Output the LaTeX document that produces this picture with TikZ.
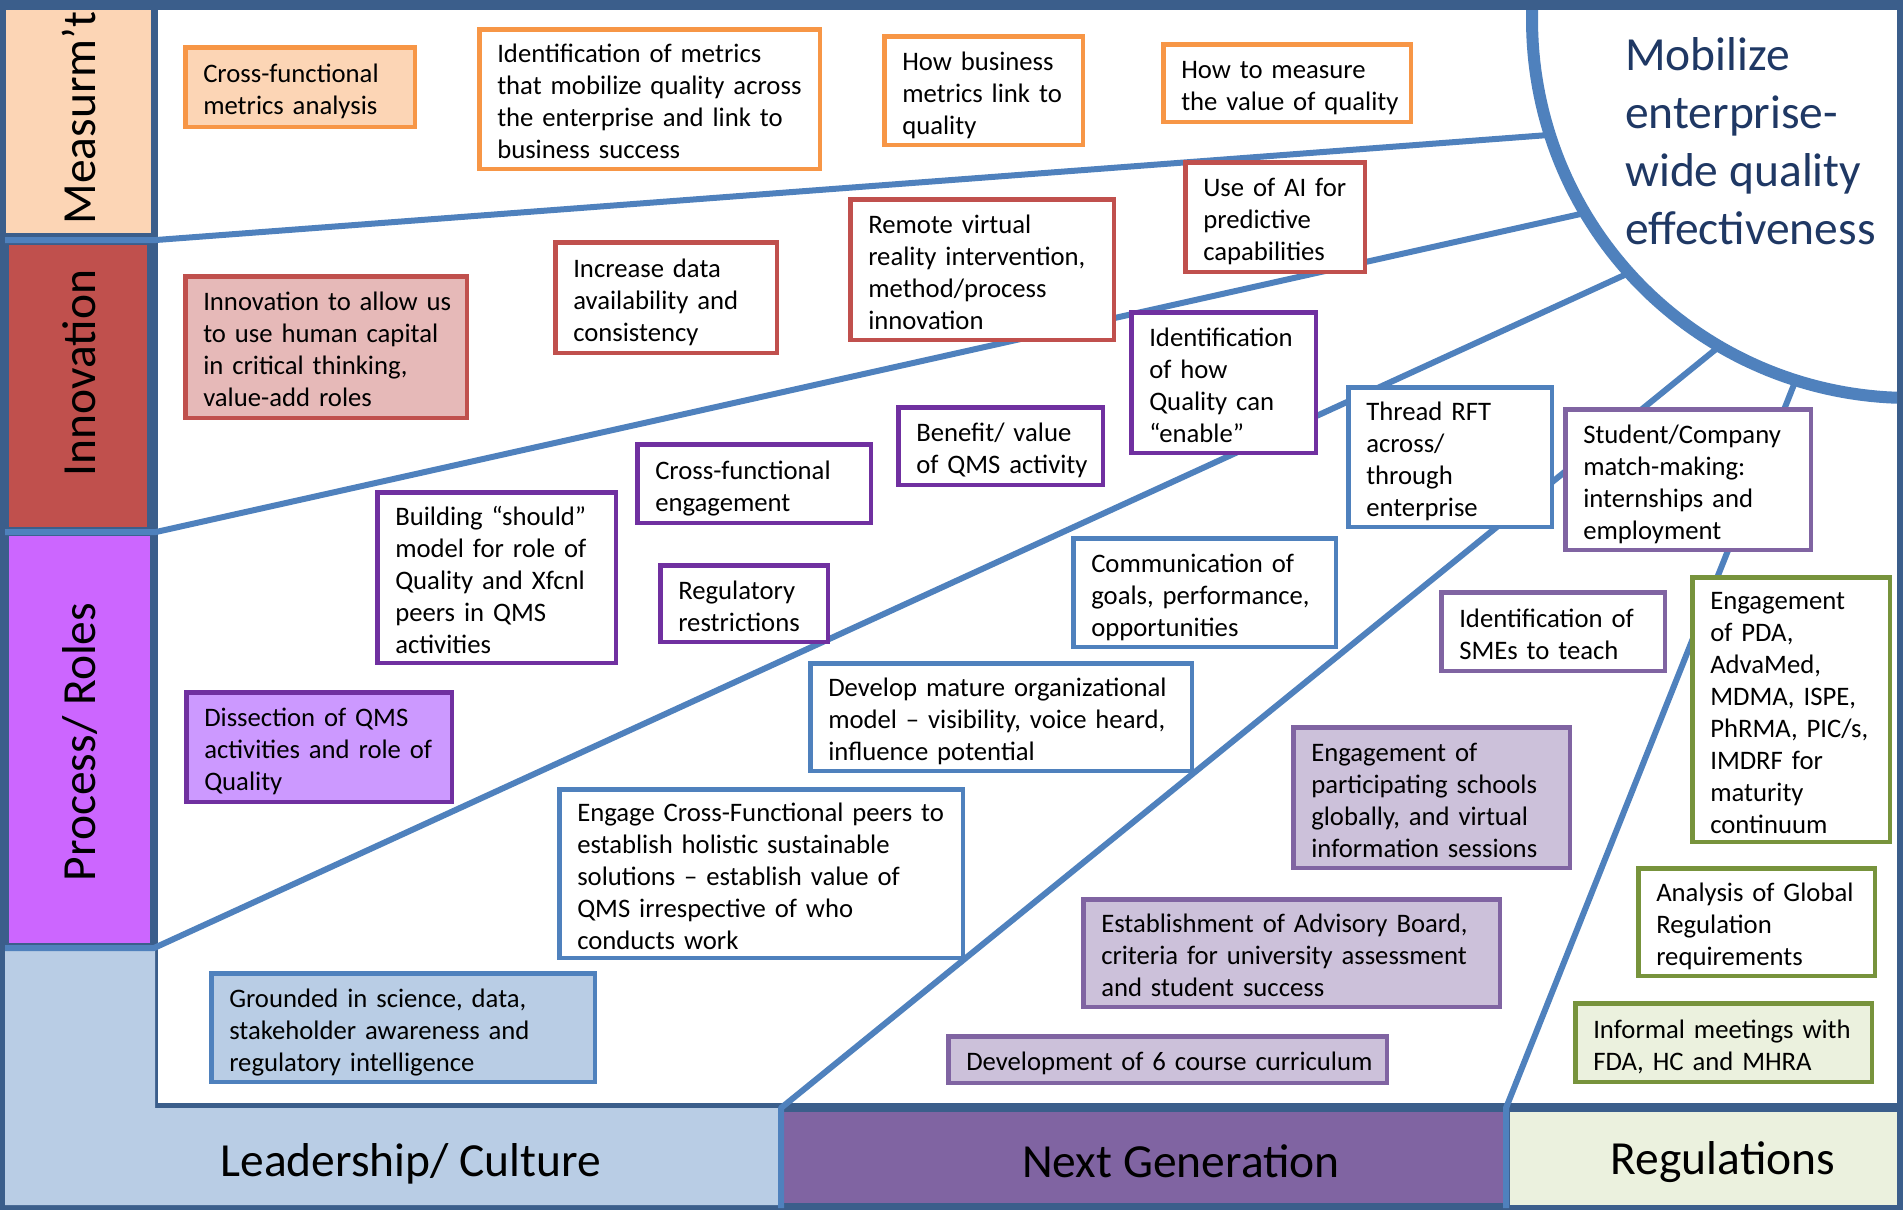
\documentclass[tikz,border=0pt]{standalone}
\usepackage{fontspec}
\setmainfont{Carlito}

\definecolor{framec}{HTML}{3B5E8B}
\definecolor{linec}{HTML}{4F81BD}
\definecolor{peachc}{HTML}{FCD5B5}
\definecolor{orangec}{HTML}{F79646}
\definecolor{redc}{HTML}{C0504D}
\definecolor{pinkc}{HTML}{E6B9B8}
\definecolor{purplec}{HTML}{7030A0}
\definecolor{violetc}{HTML}{CC66FF}
\definecolor{lilacc}{HTML}{CC99FF}
\definecolor{paleblue}{HTML}{B9CDE5}
\definecolor{ngc}{HTML}{8064A2}
\definecolor{ngfill}{HTML}{CCC1DA}
\definecolor{greenc}{HTML}{77933C}
\definecolor{regfill}{HTML}{EBF1DE}
\definecolor{titlec}{HTML}{1F3864}

\newcommand\boxfont{\fontsize{26.7}{32}\selectfont}
\newcommand\bandfont{\fontsize{47.5}{58}\selectfont}

% text box given by its outer corners: style, name, x1, y1, x2, y2, lines
\newcommand\tbox[7]{%
  \pgfmathsetmacro\bxw{#5-#3-4.5}%
  \pgfmathsetmacro\bxh{#6-#4-4.5}%
  \pgfmathsetmacro\bxt{#5-#3-40.5}%
  \node[#1, minimum width=\bxw pt, minimum height=\bxh pt, text width=\bxt pt]
    (#2) at ({(#3+#5)/2},{(#4+#6)/2})
    {\vspace*{-11pt}\begin{tabular}{@{}l@{}}#7\end{tabular}};}

\begin{document}
\begin{tikzpicture}[x=1pt,y=-1pt,
  bx/.style={draw=#1, line width=4.5pt, fill=white, inner xsep=18pt, inner ysep=2pt,
             font=\boxfont, text=black},
  conn/.style={draw=linec, line width=6pt, line join=round},
  band/.style={font=\bandfont, text=black, inner sep=0pt}]
\useasboundingbox (0,0) rectangle (1903,1210);

% frame, working area and category panels
\fill[framec] (0,0) rectangle (1903,1210);
\fill[white] (158,10) rectangle (1897,1103);
\fill[peachc] (6,10) rectangle (151,233);
\fill[redc] (9,245) rectangle (147,527);
\fill[violetc] (9,536) rectangle (150,943);
\fill[paleblue] (5,950) -- (155,950) -- (155,1108) -- (778,1108) -- (778,1205)
  -- (5,1205) -- cycle;
\fill[ngc] (783,1112) rectangle (1503,1203);
\fill[regfill] (1510,1112) rectangle (1897,1205);

% dividing lines running to the goal circle
\coordinate (a0) at (5,240);    \coordinate (a1) at (156,240);  \coordinate (a2) at (1549.9,134.9);
\coordinate (b0) at (5,532);    \coordinate (b1) at (156,532);  \coordinate (b2) at (1585,213);
\coordinate (c0) at (5,948);    \coordinate (c1) at (154,948);  \coordinate (c2) at (1629.1,272.9);
\coordinate (d0) at (781,1208); \coordinate (d1) at (781,1108); \coordinate (d2) at (1719.3,346.4);
\coordinate (e0) at (1506,1208);\coordinate (e1) at (1506,1108);\coordinate (e2) at (1795.7,380.3);
\draw[conn] (a0) -- (a1) -- (a2);
\draw[conn] (b0) -- (b1) -- (b2);
\draw[conn] (c0) -- (c1) -- (c2);
\draw[conn] (d0) -- (d1) -- (d2);
\draw[conn] (e0) -- (e1) -- (e2);

% goal circle
\begin{scope}
  \clip (158,10) rectangle (1897,1103);
  \draw[linec, line width=12pt] plot[domain=70:200, samples=100]
    ({1910+378*cos(\x)},{20+378*sin(\x)});
\end{scope}
\node[font=\bandfont, text=titlec, align=left, anchor=west, inner sep=0pt] (goal)
  at (1625,141) {Mobilize\\enterprise-\\wide quality\\effectiveness};

% measurement
\tbox{bx=orangec, fill=peachc}{m1}{183}{45}{417}{129}{Cross-functional\\metrics analysis}
\tbox{bx=orangec}{m2}{477}{27}{822}{171}{Identification of metrics\\that mobilize quality across\\the enterprise and link to\\business success}
\tbox{bx=orangec}{m3}{882}{34}{1085}{147}{How business\\metrics link to\\quality}
\tbox{bx=orangec}{m4}{1161}{42}{1413}{124}{How to measure\\the value of quality}

% innovation
\tbox{bx=redc, fill=pinkc}{i1}{183}{274}{469}{420}{Innovation to allow us\\to use human capital\\in critical thinking,\\value-add roles}
\tbox{bx=redc}{i2}{553}{240}{779}{355}{Increase data\\availability and\\consistency}
\tbox{bx=redc}{i3}{848}{197}{1116}{342}{Remote virtual\\reality intervention,\\method/process\\innovation}
\tbox{bx=redc}{i4}{1183}{160}{1367}{274}{Use of AI for\\predictive\\capabilities}

% process / roles
\tbox{bx=purplec}{p1}{375}{490}{618}{665}{Building “should”\\model for role of\\Quality and Xfcnl\\peers in QMS\\activities}
\tbox{bx=purplec}{p2}{635}{442}{873}{525}{Cross-functional\\engagement}
\tbox{bx=purplec}{p3}{896}{405}{1105}{487}{Benefit/ value\\of QMS activity}
\tbox{bx=purplec}{p4}{1129}{310}{1318}{455}{Identification\\of how\\Quality can\\“enable”}
\tbox{bx=purplec}{p5}{658}{563}{830}{644}{Regulatory\\restrictions}
\tbox{bx=purplec, fill=lilacc}{p6}{184}{690}{454}{804}{Dissection of QMS\\activities and role of\\Quality}

% leadership / culture
\tbox{bx=linec}{l1}{1346}{385}{1554}{529}{Thread RFT\\across/\\through\\enterprise}
\tbox{bx=linec}{l2}{1071}{536}{1338}{649}{Communication of\\goals, performance,\\opportunities}
\tbox{bx=linec}{l3}{808}{661}{1194}{773}{Develop mature organizational\\model – visibility, voice heard,\\influence potential}
\tbox{bx=linec}{l4}{557}{787}{965}{960}{Engage Cross-Functional peers to\\establish holistic sustainable\\solutions – establish value of\\QMS irrespective of who\\conducts work}
\tbox{bx=linec, fill=paleblue}{l5}{209}{971}{597}{1084}{Grounded in science, data,\\stakeholder awareness and\\regulatory intelligence}

% next generation
\tbox{bx=ngc}{n1}{1563}{407}{1813}{552}{Student/Company\\match-making:\\internships and\\employment}
\tbox{bx=ngc}{n2}{1439}{590}{1667}{673}{Identification of\\SMEs to teach}
\tbox{bx=ngc, fill=ngfill}{n3}{1291}{725}{1572}{870}{Engagement of\\participating schools\\globally, and virtual\\information sessions}
\tbox{bx=ngc, fill=ngfill}{n4}{1081}{897}{1502}{1009}{Establishment of Advisory Board,\\criteria for university assessment\\and student success}
\tbox{bx=ngc, fill=ngfill}{n5}{946}{1034}{1389}{1085}{Development of 6 course curriculum}

% regulations
\tbox{bx=greenc}{r1}{1690}{575}{1892}{844}{Engagement\\of PDA,\\AdvaMed,\\MDMA, ISPE,\\PhRMA, PIC/s,\\IMDRF for\\maturity\\continuum}
\tbox{bx=greenc}{r2}{1636}{866}{1877}{978}{Analysis of Global\\Regulation\\requirements}
\tbox{bx=greenc, fill=regfill}{r3}{1573}{1001}{1874}{1084}{Informal meetings with\\FDA, HC and MHRA}

% category labels
\node[band, rotate=90] (meas) at (79,118) {Measurm’t};
\node[band, rotate=90] (innov) at (79,373) {Innovation};
\node[band, rotate=90] (proc) at (80,742) {Process/ Roles};
\node[band] (lead) at (411,1164) {Leadership/ Culture};
\node[band] (nextgen) at (1181,1161) {Next Generation};
\node[band] (regs) at (1723,1162) {Regulations};
\end{tikzpicture}
\end{document}
